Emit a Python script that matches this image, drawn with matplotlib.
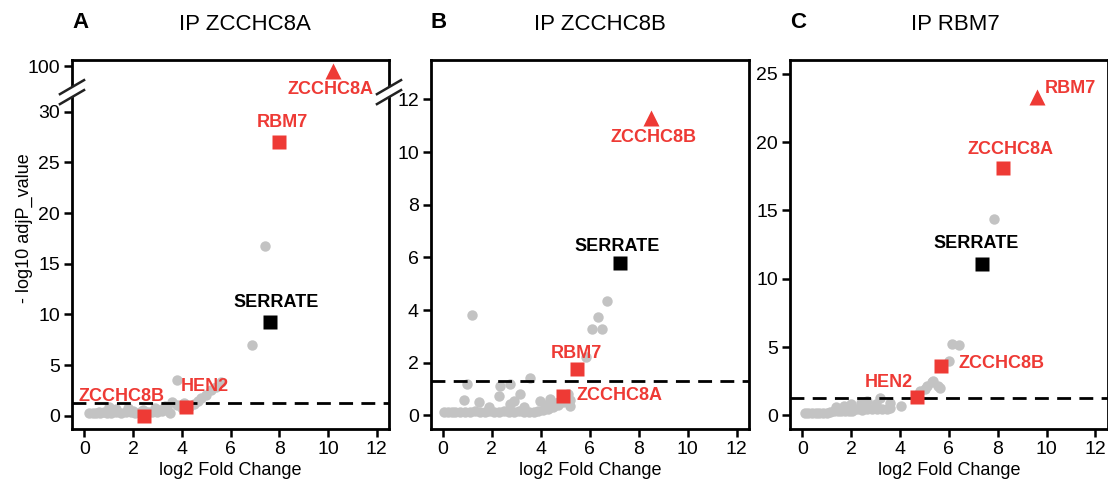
import numpy as np
import matplotlib
matplotlib.use("Agg")
import matplotlib.pyplot as plt
from matplotlib.lines import Line2D
from matplotlib.patches import Polygon

plt.rcParams.update({
    "font.family": ["Liberation Sans", "DejaVu Sans"],
    "font.size": 13,
    "axes.linewidth": 2.0,
    "xtick.major.width": 1.8, "ytick.major.width": 1.8,
    "xtick.major.size": 5.5, "ytick.major.size": 5.5,
    "xtick.labelsize": 14, "ytick.labelsize": 14,
})

RED = "#EE3A35"
GREY = "#C3C3C3"
THRESH = 1.30  # -log10(0.05)

# ---------------- panel A: IP ZCCHC8A ----------------
a_grey_x = [0.2, 0.35, 0.5, 0.65, 0.8, 0.95, 1.1, 1.3, 1.5, 1.7, 1.9, 2.1, 2.3, 2.6, 2.8,
            3.0, 3.2, 3.5, 1.0, 1.3, 1.8, 2.9, 3.3, 3.6, 3.1, 4.0, 4.3, 4.5, 4.65, 4.8,
            5.0, 5.2, 5.4, 5.6, 3.81, 6.87, 7.42, 0.6, 1.2, 2.0, 2.4, 3.4, 3.8, 4.1]
a_grey_y = [0.3, 0.3, 0.3, 0.3, 0.35, 0.3, 0.3, 0.35, 0.3, 0.35, 0.4, 0.3, 0.35, 0.4, 0.35,
            0.4, 0.45, 0.3, 0.9, 0.7, 0.8, 0.8, 1.0, 1.4, 0.6, 0.8, 0.9, 1.2, 1.5, 1.8,
            2.1, 2.5, 2.8, 3.3, 3.55, 7.0, 16.8, 0.4, 0.5, 0.45, 0.6, 0.7, 1.1, 1.3]
a_hit_names = ["ZCCHC8B", "HEN2", "RBM7"]
a_hit_x = [2.45, 4.19, 8.0]
a_hit_y = [0.0, 0.86, 27.05]
a_bait = ("ZCCHC8A", 10.2, 92.0)
a_serrate = (7.6, 9.24)

# ---------------- panel B: IP ZCCHC8B ----------------
b_grey_x = [0.05, 0.2, 0.35, 0.5, 0.7, 0.9, 1.1, 1.3, 1.5, 1.7, 1.9, 2.1, 2.3, 2.5, 2.7,
            2.9, 3.1, 3.3, 3.5, 3.7, 3.9, 4.1, 4.3, 4.5, 4.7, 4.9, 5.2,
            0.98, 2.34, 2.75, 3.56, 0.84, 1.49, 2.27, 3.13, 2.75, 3.97, 4.38, 4.6, 4.8,
            5.2, 5.1, 1.18, 5.85, 6.1, 6.51, 6.33, 6.72, 1.9, 2.9, 3.3, 4.2]
b_grey_y = [0.12, 0.12, 0.12, 0.12, 0.12, 0.12, 0.12, 0.15, 0.12, 0.12, 0.15, 0.12, 0.12,
            0.15, 0.12, 0.12, 0.15, 0.12, 0.12, 0.12, 0.15, 0.2, 0.25, 0.3, 0.4, 0.5, 0.6,
            1.2, 1.12, 1.2, 1.43, 0.57, 0.52, 0.73, 0.8, 0.42, 0.54, 0.61, 0.45, 0.55,
            0.35, 0.8, 3.81, 2.2, 3.27, 3.27, 3.72, 4.35, 0.3, 0.55, 0.3, 0.4]
b_hit_names = ["ZCCHC8A", "RBM7"]
b_hit_x = [4.92, 5.47]
b_hit_y = [0.73, 1.75]
b_bait = ("ZCCHC8B", 8.49, 11.31)
b_serrate = (7.24, 5.79)

# ---------------- panel C: IP RBM7 ----------------
c_grey_x = [0.1, 0.25, 0.4, 0.55, 0.7, 0.85, 1.0, 1.15, 1.3, 1.45, 1.6, 1.75, 1.9, 2.05,
            2.25, 2.45, 2.65, 2.85, 3.05, 3.25, 3.45, 3.6, 1.4, 1.7, 2.65, 3.2, 3.6, 4.05,
            4.83, 5.03, 5.1, 5.36, 5.56, 5.3, 5.62, 6.01, 6.12, 6.42, 7.86, 2.0, 2.4, 3.0]
c_grey_y = [0.2, 0.2, 0.2, 0.2, 0.2, 0.2, 0.2, 0.25, 0.3, 0.35, 0.3, 0.35, 0.3, 0.35,
            0.45, 0.4, 0.5, 0.45, 0.5, 0.45, 0.5, 0.56, 0.6, 0.7, 1.05, 1.29, 0.9, 0.7,
            1.78, 1.9, 2.15, 2.5, 2.15, 2.47, 2.03, 3.98, 5.2, 5.13, 14.37, 0.8, 0.9, 0.8]
c_hit_names = ["HEN2", "ZCCHC8B", "ZCCHC8A"]
c_hit_x = [4.69, 5.67, 8.23]
c_hit_y = [1.37, 3.61, 18.08]
c_bait = ("RBM7", 9.59, 23.28)
c_serrate = (7.37, 11.07)

# label offsets (points) and alignment
LABEL_POS = {
    "A": {"ZCCHC8A": (-2, -13, "center"), "RBM7": (2, 14, "center"),
          "SERRATE": (5, 14, "center"), "HEN2": (13, 15, "center"),
          "ZCCHC8B": (-16, 14, "center")},
    "B": {"ZCCHC8B": (2, -14, "center"), "SERRATE": (-2, 12, "center"),
          "RBM7": (0, 11.5, "center"), "ZCCHC8A": (9.6, 0.5, "left")},
    "C": {"RBM7": (6, 6, "left"), "ZCCHC8A": (5, 13.5, "center"),
          "SERRATE": (-4.5, 15, "center"), "ZCCHC8B": (12.7, 2, "left"),
          "HEN2": (-20.5, 10.5, "center")},
}

# broken y axis for panel A: compress 30..100 into a small band
K = 4.5 / 70.0
def fwd(y):
    y = np.asarray(y, dtype=float)
    return np.where(y <= 30, y, 30 + (y - 30) * K)
def inv(y):
    y = np.asarray(y, dtype=float)
    return np.where(y <= 30, y, 30 + (y - 30) / K)

fig = plt.figure(figsize=(11.08, 4.86), dpi=100)
W, H = 1108, 486
boxes = [(72, 389), (430.7, 749), (790, 1107.7)]
top_px, bot_px = 60, 429
axes = []
for l, r in boxes:
    axes.append(fig.add_axes([l / W, 1 - bot_px / H, (r - l) / W, (bot_px - top_px) / H]))

def lab(ax, panel, name, x, y, color):
    dx, dy, ha = LABEL_POS[panel][name]
    ax.annotate(name, (x, y), xytext=(dx, dy), textcoords="offset points",
                ha=ha, va="center", color=color, fontweight="bold", fontsize=13, zorder=6)

panels = [
    ("A", "IP ZCCHC8A", a_grey_x, a_grey_y, a_hit_names, a_hit_x, a_hit_y, a_bait, a_serrate),
    ("B", "IP ZCCHC8B", b_grey_x, b_grey_y, b_hit_names, b_hit_x, b_hit_y, b_bait, b_serrate),
    ("C", "IP RBM7", c_grey_x, c_grey_y, c_hit_names, c_hit_x, c_hit_y, c_bait, c_serrate),
]
title_cx = [245, 600, 955]

for ax, (pl, title, gx, gy, hn, hx, hy, bait, ser), tcx in zip(axes, panels, title_cx):
    if pl == "A":
        ax.set_yscale("function", functions=(fwd, inv))
    ax.plot(gx, gy, "o", color=GREY, ms=7.5, mec="none", zorder=2)
    ax.plot(hx, hy, "s", color=RED, ms=10, mec="none", zorder=4)
    ax.plot([bait[1]], [bait[2]], "^", color=RED, ms=11, mec="none", zorder=4)
    ax.plot([ser[0]], [ser[1]], "s", color="black", ms=10, mec="none", zorder=4)
    ax.axhline(THRESH, color="black", lw=2.0, ls=(0, (5, 3)), zorder=3)
    for n, x, y in zip(hn, hx, hy):
        lab(ax, pl, n, x, y, RED)
    lab(ax, pl, bait[0], bait[1], bait[2], RED)
    lab(ax, pl, "SERRATE", ser[0], ser[1], "black")
    ax.set_xlim(-0.5, 12.5)
    ax.set_xticks(range(0, 13, 2))
    ax.set_xlabel("log2 Fold Change", fontsize=13, labelpad=3)
    ax.tick_params(direction="out", pad=3)
    fig.text(tcx / W, 1 - 24 / H, title, ha="center", va="center", fontsize=16)
    l = ax.get_position().x0
    fig.text(l, 1 - 22 / H, pl, ha="left", va="center", fontsize=16, fontweight="bold")

axes[0].set_ylim(-1.3, float(inv(35.1)))
axes[0].set_yticks([0, 5, 10, 15, 20, 25, 30, 100])
axes[1].set_ylim(-0.52, 13.5)
axes[1].set_yticks(range(0, 13, 2))
axes[2].set_ylim(-1.0, 26.0)
axes[2].set_yticks(range(0, 26, 5))

fig.text(24 / W, 1 - 228 / H, "- log10 adjP_value", rotation=90, ha="center", va="center",
         fontsize=13)

# axis break marks on panel A (both spines)
ax = axes[0]
yb = 0.913
dx, dy, sep = 0.038, 0.019, 0.0135
for xs in (0.0, 1.0):
    gap = Polygon([(xs - dx, yb + sep - dy), (xs + dx, yb + sep + dy),
                   (xs + dx, yb - sep + dy), (xs - dx, yb - sep - dy)],
                  closed=True, transform=ax.transAxes, facecolor="white",
                  edgecolor="none", clip_on=False, zorder=10)
    ax.add_patch(gap)
    for s in (sep, -sep):
        ax.add_line(Line2D([xs - dx, xs + dx], [yb + s - dy, yb + s + dy],
                           transform=ax.transAxes, color="#222222", lw=1.8,
                           clip_on=False, zorder=11))

fig.savefig("out.png", dpi=100)
